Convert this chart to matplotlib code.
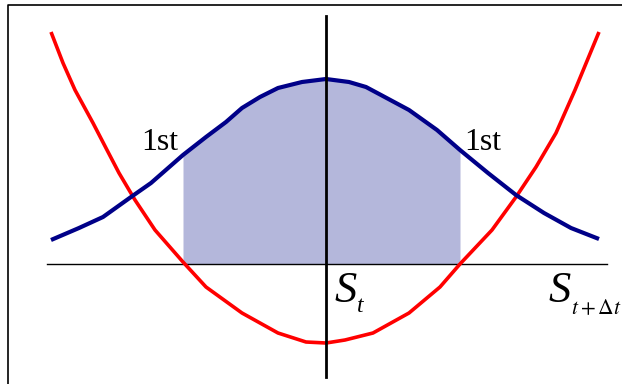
import numpy as np
import matplotlib.pyplot as plt

plt.rcParams['mathtext.fontset'] = 'stix'

# curves: x relative to S_t, height above the horizontal axis
red_x = [-275, -263, -251, -233, -219, -207, -191, -171, -143, -120, -84, -48, -20, 0,
         19, 47, 83, 114, 134, 166, 190, 210, 230, 249, 273]
red_y = [232, 201, 174, 141, 114, 91, 64, 34, 2, -23, -49, -69, -78, -79,
         -76, -69, -49, -23, 0, 34, 67, 97, 131, 174, 232]

blue_x = [-275, -247, -223, -195, -175, -143, -120, -100, -84, -66, -48, -24, 0, 23,
          40, 55, 83, 111, 134, 162, 190, 218, 245, 273]
blue_y = [24, 36, 47, 67, 81, 109, 127, 142, 156, 167, 176, 182, 185, 182,
          177, 169, 154, 134, 114, 91, 69, 51, 36, 25]

shade_from = -143
shade_to = 134

fig = plt.figure(figsize=(6.22, 3.84), dpi=100)
ax = fig.add_axes([0, 0, 1, 1])
ax.set_xlim(-326, 296)
ax.set_ylim(-120, 264)
ax.axis('off')

bx = np.array(blue_x)
by = np.array(blue_y)
ax.fill_between(bx, 0, by, where=(bx >= shade_from) & (bx <= shade_to),
                color='#b4b7db', lw=0, zorder=1)

ax.plot(red_x, red_y, color='#ff0000', lw=2.6, zorder=3, solid_capstyle='butt')
ax.plot(blue_x, blue_y, color='#000088', lw=3.0, zorder=3, solid_capstyle='butt')

# axes
ax.plot([-279, 281], [0, 0], color='black', lw=1.0, zorder=2)
ax.plot([0, 0], [248, -113], color='black', lw=2.0, zorder=4)

# frame (left and top only)
ax.plot([-318, -318, 296], [-120, 259.5, 259.5], color='black', lw=1.2,
        clip_on=False, zorder=5)

serif = 'Liberation Serif'
ax.text(-166, 122, '1st', fontsize=23, family=serif, ha='center', va='center')
ax.text(157, 122, '1st', fontsize=23, family=serif, ha='center', va='center')

ax.text(8, -38, 'S', fontsize=32, family=serif, style='italic', va='baseline')
ax.text(31, -48, 't', fontsize=17, family=serif, style='italic', va='baseline')

ax.text(222, -38, 'S', fontsize=32, family=serif, style='italic', va='baseline')
ax.text(245, -50, '$t+\\Delta t$', fontsize=15.5, va='baseline')

fig.savefig('out.png', dpi=100)
